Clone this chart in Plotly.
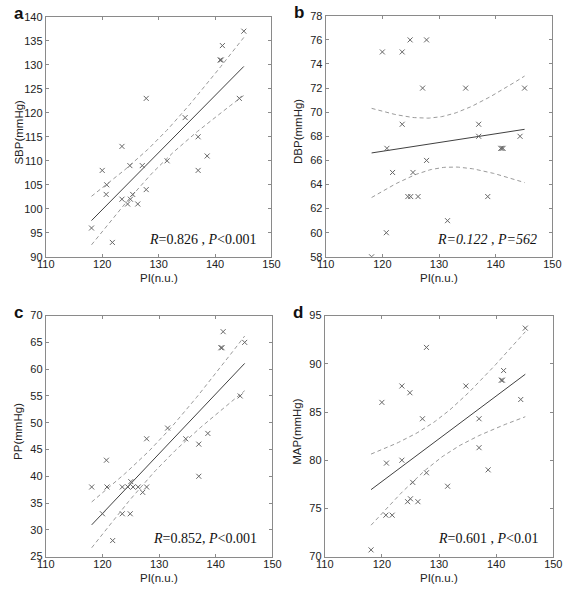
import numpy as np
import plotly.graph_objects as go

# ---- data ----
PI = [118.1, 120.0, 120.7, 120.8, 121.8, 123.5, 123.5, 124.9, 124.5, 125.0, 125.4, 126.3, 127.1,
      127.8, 127.8, 131.5, 134.7, 137.0, 137.0, 138.6, 140.9, 141.1, 141.3, 144.3, 145.1]
SBP = [96, 108, 103, 105, 93, 113, 102, 109, 101, 102, 103, 101, 109, 104, 123, 110, 119, 108, 115,
       111, 131, 131, 134, 123, 137]
DBP = [58, 75, 60, 67, 65, 75, 69, 76, 63, 63, 65, 63, 72, 66, 76, 61, 72, 68, 69, 63, 67, 67, 67, 68, 72]
PP = [38, 33, 43, 38, 28, 38, 33, 33, 38, 39, 38, 38, 37, 38, 47, 49, 47, 40, 46, 48, 64, 64, 67, 55, 65]
MAP = [70.7, 86.0, 74.3, 79.7, 74.3, 87.7, 80.0, 87.0, 75.7, 76.0, 77.7, 75.7, 84.3, 78.7, 91.7, 77.3,
       87.7, 81.3, 84.3, 79.0, 88.3, 88.3, 89.3, 86.3, 93.7]

panel_letters = ["a", "b", "c", "d"]
y_titles = ["SBP(mmHg)", "DBP(mmHg)", "PP(mmHg)", "MAP(mmHg)"]
x_title = "PI(n.u.)"
stat_texts = ["<i>R</i>=0.826 , <i>P</i>&lt;0.001",
              "<i>R=0.122 , P=562</i>",
              "<i>R</i>=0.852, <i>P</i>&lt;0.001",
              "<i>R</i>=0.601 , <i>P</i>&lt;0.01"]
y_ranges = [(90, 140), (58, 78), (25, 70), (70, 95)]
y_dticks = [5, 2, 5, 5]
x_range = (110, 150)
x_dtick = 10
T_975_DF23 = 2.0687

# ---- layout geometry (pixels) ----
W, H = 572, 593
boxes = [(38, 271, 11, 256), (327, 561, 10, 256), (38, 272, 316, 562), (326, 562, 316, 562)]


def px(x):
    return x / W


def py(y):
    return 1 - y / H


series = [SBP, DBP, PP, MAP]
fig = go.Figure()
layout = dict(width=W, height=H, margin=dict(l=0, r=0, t=0, b=0),
              paper_bgcolor="white", plot_bgcolor="white", showlegend=False,
              font=dict(family="Liberation Sans, Arial, sans-serif", color="#222"))
annotations = []

axis_common = dict(showline=True, linecolor="#8a8a8a", linewidth=1, mirror="ticks",
                   ticks="inside", ticklen=3, tickcolor="#8a8a8a", tickwidth=1,
                   showgrid=False, zeroline=False,
                   tickfont=dict(family="Liberation Sans, Arial, sans-serif", size=11, color="#222"))

for i, yv in enumerate(series):
    n = i + 1
    xa = "x" if n == 1 else f"x{n}"
    ya = "y" if n == 1 else f"y{n}"
    x0, x1, y0, y1 = boxes[i]
    x = np.array(PI, dtype=float)
    y = np.array(yv, dtype=float)
    # linear fit and 95% confidence band of the mean
    b, a = np.polyfit(x, y, 1)
    resid = y - (a + b * x)
    s = np.sqrt(np.sum(resid ** 2) / (len(x) - 2))
    sxx = np.sum((x - x.mean()) ** 2)
    xf = np.linspace(x.min(), x.max(), 80)
    yf = a + b * xf
    half = T_975_DF23 * s * np.sqrt(1 / len(x) + (xf - x.mean()) ** 2 / sxx)

    fig.add_trace(go.Scatter(x=xf, y=yf + half, mode="lines", xaxis=xa, yaxis=ya,
                             line=dict(color="#9a9a9a", width=1, dash="4px,3px"), hoverinfo="skip"))
    fig.add_trace(go.Scatter(x=xf, y=yf - half, mode="lines", xaxis=xa, yaxis=ya,
                             line=dict(color="#9a9a9a", width=1, dash="4px,3px"), hoverinfo="skip"))
    fig.add_trace(go.Scatter(x=xf, y=yf, mode="lines", xaxis=xa, yaxis=ya,
                             line=dict(color="#404040", width=1)))
    fig.add_trace(go.Scatter(x=x, y=y, mode="markers", xaxis=xa, yaxis=ya,
                             marker=dict(symbol="x-thin", size=5, color="#666",
                                         line=dict(width=1, color="#666"))))

    kx = "xaxis" if n == 1 else f"xaxis{n}"
    ky = "yaxis" if n == 1 else f"yaxis{n}"
    layout[kx] = dict(axis_common, domain=[px(x0), px(x1)], range=list(x_range),
                      tick0=110, dtick=x_dtick, anchor=ya, ticklabelstandoff=-3)
    layout[ky] = dict(axis_common, domain=[py(y1), py(y0)], range=list(y_ranges[i]),
                      tick0=y_ranges[i][0], dtick=y_dticks[i], anchor=xa)

    # panel letter
    annotations.append(dict(text=f"<b>{panel_letters[i]}</b>", xref="paper", yref="paper",
                            x=px(x0 - 35), y=py(y0 - 3), xanchor="left", yanchor="middle",
                            showarrow=False, font=dict(size=17, color="#111",
                                                       family="Liberation Sans, Arial, sans-serif")))
    # axis titles
    annotations.append(dict(text=x_title, xref="paper", yref="paper",
                            x=px((x0 + x1) / 2), y=py(y1 + 22), xanchor="center", yanchor="middle",
                            showarrow=False, font=dict(size=11.5, color="#222")))
    annotations.append(dict(text=y_titles[i], xref="paper", yref="paper",
                            x=px(x0 - 28), y=py((y0 + y1) / 2 - 5), xanchor="center", yanchor="middle",
                            textangle=-90, showarrow=False, font=dict(size=11.5, color="#222")))
    # statistics text
    annotations.append(dict(text=stat_texts[i], xref="paper", yref="paper",
                            x=px(x1 - 14), y=py(y1 - 18), xanchor="right", yanchor="middle",
                            showarrow=False,
                            font=dict(size=14, color="#111",
                                      family="Liberation Serif, Times New Roman, serif")))

layout["annotations"] = annotations
fig.update_layout(**layout)
fig.write_html("out.html", config={"displayModeBar": False},
               post_script="document.body.style.margin='0';")
